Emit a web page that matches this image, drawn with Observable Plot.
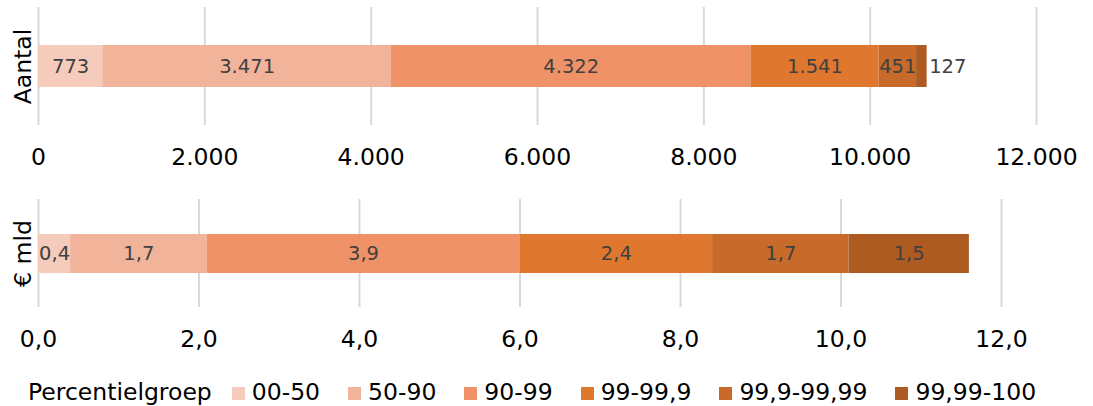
<!DOCTYPE html>
<html>
<head>
<meta charset="utf-8">
<script src="https://cdn.jsdelivr.net/npm/d3@7"></script>
<script src="https://cdn.jsdelivr.net/npm/@observablehq/plot@0.6"></script>
<style>
  html, body { margin: 0; padding: 0; background: white; }
  body { width: 1093px; height: 406px; overflow: hidden; font-family: "DejaVu Sans", Verdana, sans-serif; }
  .legend { display: flex; align-items: center; height: 41px; padding-left: 28px; font-size: 23.5px; color: #000; box-sizing: border-box; padding-top: 13px; white-space: nowrap; }
  .legend .title { margin-right: 20px; }
  .legend .item { display: flex; align-items: center; margin-right: 28px; }
  .legend .sw { width: 13px; height: 13px; margin-right: 7px; margin-top: 3px; display: inline-block; }
  svg { display: block; }
</style>
</head>
<body>
<div id="chart"></div>
<script>
const groups = ["00-50", "50-90", "90-99", "99-99,9", "99,9-99,99", "99,99-100"];
const colors = ["#f5cbbc", "#f2b39b", "#f09267", "#e0772f", "#c86a29", "#ae5b22"];
const aantal = [773, 3471, 4322, 1541, 451, 127];
const bedrag = [0.4, 1.7, 3.9, 2.4, 1.7, 1.5];
const ticksAantal = [0, 2000, 4000, 6000, 8000, 10000, 12000];
const ticksBedrag = [0, 2, 4, 6, 8, 10, 12];
const labelAantal = "Aantal";
const labelBedrag = "€ mld";
const legendTitle = "Percentielgroep";

const nl = d3.formatLocale({decimal: ",", thousands: ".", grouping: [3], currency: ["€", ""]});
const fmtInt = nl.format(",d");
const fmt1 = nl.format(".1f");

const font = {fontFamily: "DejaVu Sans, Verdana, sans-serif", fontSize: "23px", color: "#000", background: "white", overflow: "visible"};

function panel({values, ticks, label, fmtLabel, fmtTick, height, marginTop, marginBottom, marginRight, insetTop, insetBottom, outsideBelow}) {
  const data = values.map((v, i) => ({group: groups[i], value: v}));
  return Plot.plot({
    width: 1093,
    height,
    marginLeft: 38,
    marginRight,
    marginTop,
    marginBottom,
    style: font,
    x: {domain: [ticks[0], ticks[ticks.length - 1]], label: null},
    color: {domain: groups, range: colors},
    marks: [
      Plot.gridX(ticks, {stroke: "#d9d9d9", strokeOpacity: 1, strokeWidth: 2}),
      Plot.barX(data, Plot.stackX({x: "value", fill: "group", insetTop, insetBottom})),
      Plot.text(data.filter(d => d.value >= outsideBelow), Plot.stackX({x: "value", text: d => fmtLabel(d.value), fill: "#404040", fontSize: 19.5})),
      Plot.text(data, Plot.stackX2({x: "value", text: d => d.value < outsideBelow ? fmtLabel(d.value) : "", fill: "#404040", fontSize: 19.5, textAnchor: "start", dx: 2})),
      Plot.axisX(ticks, {tickSize: 0, tickPadding: 23, tickFormat: fmtTick, fontSize: 23.5, fill: "#000", label: null}),
      Plot.text([label], {frameAnchor: "left", rotate: -90, dx: -15, textAnchor: "middle", fontSize: 23.5, fill: "#000"})
    ]
  });
}

const chart = document.getElementById("chart");
chart.append(panel({values: aantal, ticks: ticksAantal, label: labelAantal, fmtLabel: fmtInt, fmtTick: fmtInt,
  height: 185, marginTop: 7, marginBottom: 60, marginRight: 57, insetTop: 38, insetBottom: 38, outsideBelow: 200}));
chart.append(panel({values: bedrag, ticks: ticksBedrag, label: labelBedrag, fmtLabel: fmt1, fmtTick: fmt1,
  height: 180, marginTop: 14, marginBottom: 58, marginRight: 92, insetTop: 35, insetBottom: 34, outsideBelow: 0}));

const legend = document.createElement("div");
legend.className = "legend";
const t = document.createElement("span");
t.className = "title";
t.textContent = legendTitle;
legend.append(t);
groups.forEach((g, i) => {
  const item = document.createElement("span");
  item.className = "item";
  const sw = document.createElement("span");
  sw.className = "sw";
  sw.style.background = colors[i];
  const lab = document.createElement("span");
  lab.textContent = g;
  item.append(sw, lab);
  legend.append(item);
});
chart.append(legend);
</script>
</body>
</html>
